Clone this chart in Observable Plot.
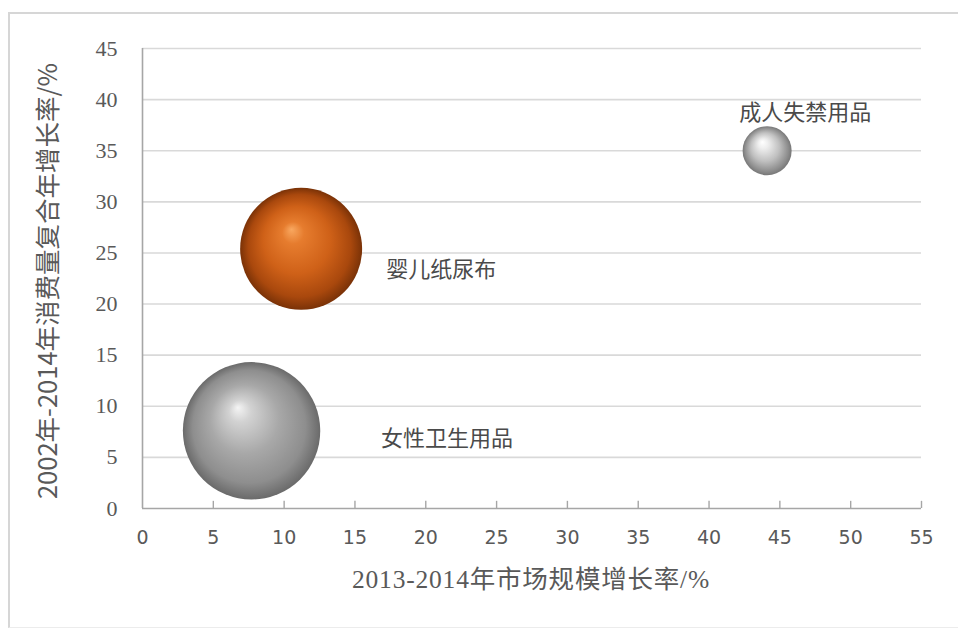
<!DOCTYPE html>
<html>
<head>
<meta charset="utf-8">
<script src="https://cdn.jsdelivr.net/npm/d3@7"></script>
<script src="https://cdn.jsdelivr.net/npm/@observablehq/plot@0.6"></script>
<style>
  html, body { margin: 0; padding: 0; background: #fff; }
  #wrap { position: relative; width: 958px; height: 628px; overflow: hidden; }
  #frame { position: absolute; left: 8px; top: 12px; width: 960px; height: 613px;
           border-left: 2px solid #d6d6d6; border-top: 2px solid #d6d6d6; border-bottom: 1px solid #ececec;
           pointer-events: none; z-index: 2; }
  #chart { position: absolute; left: 0; top: 0; }
</style>
</head>
<body>
<div id="wrap"><div id="chart"></div><div id="frame"></div></div>
<script>
// ---- data ----
const names = ["女性卫生用品", "婴儿纸尿布", "成人失禁用品"];
const marketGrowth = [7.7, 11.2, 44.1];      // x: 2013-2014年市场规模增长率/%
const consumptionCAGR = [7.6, 25.4, 35.0];   // y: 2002年-2014年消费量复合年增长率/%
const bubbleSize = [472, 372, 60];           // relative bubble size
const labelX = [21.5, 21.1, 46.8];
const labelY = [6.8, 23.3, 38.7];
const xTicks = [0, 5, 10, 15, 20, 25, 30, 35, 40, 45, 50, 55];
const yTicks = [0, 5, 10, 15, 20, 25, 30, 35, 40, 45];
const xTitle = "2013-2014年市场规模增长率/%";
const yTitle = "2002年-2014年消费量复合年增长率/%";

const rows = names.map((n, i) => ({
  name: n, x: marketGrowth[i], y: consumptionCAGR[i], size: bubbleSize[i],
  lx: labelX[i], ly: labelY[i], idx: i
}));

const svg = Plot.plot({
  width: 958,
  height: 628,
  marginLeft: 142,
  marginRight: 37,
  marginTop: 48,
  marginBottom: 120,
  x: { domain: [0, 55], ticks: xTicks },
  y: { domain: [0, 45], ticks: yTicks },
  r: { type: "sqrt", domain: [0, 472], range: [0, 68.7] },
  color: { type: "identity" },
  style: { background: "transparent" },
  marks: [
    Plot.ruleY(yTicks.filter(d => d > 0), { stroke: "#d9d9d9", strokeWidth: 1.6 }),
    Plot.ruleY([0], { stroke: "#a6a6a6", strokeWidth: 1.6 }),
    Plot.ruleX([0], { stroke: "#a6a6a6", strokeWidth: 1.6 }),
    Plot.ruleX(xTicks.filter(d => d > 0), { y1: 0, y2: 0.7, stroke: "#a6a6a6", strokeWidth: 1.4 }),
    Plot.axisX({ ticks: xTicks, tickSize: 0, tickPadding: 22, label: null,
      fontSize: 19, fontFamily: "DejaVu Sans", fill: "#595959" }),
    Plot.axisY({ ticks: yTicks, tickSize: 0, tickPadding: 25, label: null,
      fontSize: 22, fontFamily: "Liberation Serif", fill: "#595959" }),
    Plot.dot(rows, { x: "x", y: "y", r: "size", fill: d => `url(#bubble-${d.idx})`, stroke: "none" }),
    Plot.text(rows, { x: "lx", y: "ly", text: "name", fontSize: 22,
      fontFamily: "Noto Sans CJK SC", fill: "#4a4a4a", textAnchor: "middle",
      style: "letter-spacing: 1.8px" })
  ]
});

// gradients for the 3D sphere look
const defs = d3.select(svg).insert("defs", ":first-child");
const grads = [
  { fx: 0.40, fy: 0.33, stops: [[0, "#f4f4f4"], [0.16, "#d2d2d2"], [0.5, "#a8a8a8"], [0.82, "#8e8e8e"], [1, "#6a6a6a"]] },
  { fx: 0.42, fy: 0.34, stops: [[0, "#f9a860"], [0.18, "#e67c2e"], [0.55, "#cf6118"], [0.84, "#a9480d"], [1, "#7a3207"]] },
  { fx: 0.40, fy: 0.32, stops: [[0, "#ffffff"], [0.2, "#eeeeee"], [0.58, "#c0c0c0"], [0.88, "#8e8e8e"], [1, "#777777"]] }
];
grads.forEach((g, i) => {
  const rg = defs.append("radialGradient").attr("id", `bubble-${i}`)
    .attr("cx", 0.5).attr("cy", 0.5).attr("r", 0.5).attr("fx", g.fx).attr("fy", g.fy);
  g.stops.forEach(([o, c]) => rg.append("stop").attr("offset", o).attr("stop-color", c));
});

// axis titles
const s = d3.select(svg);
s.append("text")
  .attr("x", 531).attr("y", 588)
  .attr("text-anchor", "middle")
  .attr("font-family", "Liberation Serif, Noto Sans CJK SC")
  .attr("font-size", 25.5).attr("fill", "#595959")
  .attr("letter-spacing", 0.8)
  .text(xTitle);
s.append("text")
  .attr("transform", "translate(57,281) rotate(-90)")
  .attr("text-anchor", "middle")
  .attr("font-family", "Noto Sans CJK SC")
  .attr("font-size", 25.5).attr("fill", "#595959")
  .text(yTitle);

document.getElementById("chart").appendChild(svg);
</script>
</body>
</html>
